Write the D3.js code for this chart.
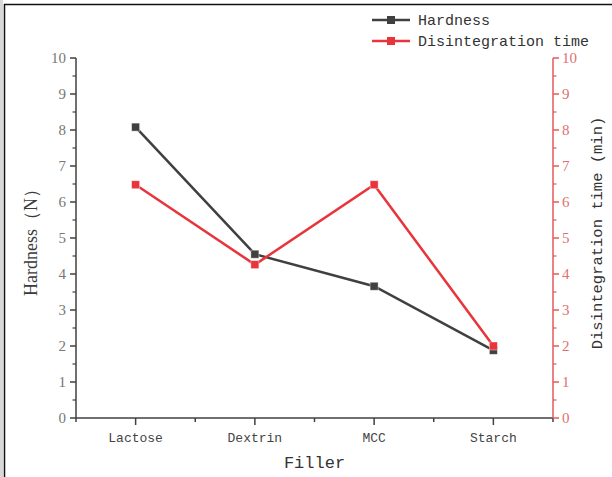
<!DOCTYPE html>
<html><head><meta charset="utf-8">
<script src="https://cdn.jsdelivr.net/npm/d3@7"></script>
<style>body{margin:0;background:#fff}svg{display:block}</style>
</head><body>
<script>
const categories = ["Lactose", "Dextrin", "MCC", "Starch"];
const hardness = [8.08, 4.55, 3.66, 1.88];
const disintegration = [6.48, 4.26, 6.48, 2.0];
const yTicks = [0,1,2,3,4,5,6,7,8,9,10];
const seriesNames = ["Hardness", "Disintegration time"];

const W = 612, H = 477;
const m = {left: 76, right: 553, top: 58, bottom: 418};
const darkC = "#404040", redC = "#e8343a", axisRed = "#e05a5e", labRed = "#e07070";
const svg = d3.select("body").append("svg").attr("width", W).attr("height", H);

// frame
svg.append("rect").attr("x",0).attr("y",0).attr("width",3).attr("height",H).attr("fill","#d8d8d8");
svg.append("line").attr("x1",4.5).attr("x2",4.5).attr("y1",4).attr("y2",H).attr("stroke","#111").attr("stroke-width",1.5);
svg.append("line").attr("x1",4).attr("x2",W).attr("y1",4.5).attr("y2",4.5).attr("stroke","#111").attr("stroke-width",1.5);

const x = d3.scalePoint().domain(categories).range([m.left, m.right]).padding(0.5);
const y = d3.scaleLinear().domain([0,10]).range([m.bottom, m.top]);
const minor = d3.range(0.5, 10, 1);
const step = x.step();

// x axis
const gx = svg.append("g").attr("transform", `translate(0,${m.bottom})`);
gx.append("line").attr("x1", m.left).attr("x2", m.right).attr("stroke", darkC).attr("stroke-width", 1.5);
gx.selectAll(".mj").data(categories).join("line")
  .attr("x1", d=>x(d)).attr("x2", d=>x(d)).attr("y1",0).attr("y2",7).attr("stroke",darkC).attr("stroke-width",1.5);
gx.selectAll(".mn").data(d3.range(0, categories.length + 1)).join("line")
  .attr("x1", i=>m.left + i*step).attr("x2", i=>m.left + i*step).attr("y1",0).attr("y2",4).attr("stroke",darkC).attr("stroke-width",1.5);
gx.selectAll("text").data(categories).join("text")
  .attr("x", d=>x(d)).attr("y", 24).attr("text-anchor","middle")
  .attr("font-family","Liberation Mono").attr("font-size",13).attr("fill","#444").text(d=>d);
svg.append("text").attr("x", (m.left+m.right)/2).attr("y", 468).attr("text-anchor","middle")
  .attr("font-family","Liberation Mono").attr("font-size",17).attr("fill","#333").text("Filler");

// left axis
const gl = svg.append("g");
gl.append("line").attr("x1",m.left).attr("x2",m.left).attr("y1",m.top).attr("y2",m.bottom).attr("stroke",darkC).attr("stroke-width",1.5);
gl.selectAll(".mj").data(yTicks).join("line").attr("x1",m.left).attr("x2",m.left-6)
  .attr("y1",d=>y(d)).attr("y2",d=>y(d)).attr("stroke",darkC).attr("stroke-width",1.5);
gl.selectAll(".mn").data(minor).join("line").attr("x1",m.left).attr("x2",m.left-3.5)
  .attr("y1",d=>y(d)).attr("y2",d=>y(d)).attr("stroke",darkC).attr("stroke-width",1.2);
gl.selectAll("text").data(yTicks).join("text").attr("x", m.left-10).attr("y", d=>y(d)+5)
  .attr("text-anchor","end").attr("font-family","Liberation Serif").attr("font-size",15).attr("fill","#777").text(d=>d);
svg.append("text").attr("transform", `translate(37,${(m.top+m.bottom)/2}) rotate(-90)`).attr("text-anchor","middle")
  .attr("font-family","Liberation Serif").attr("font-size",18).attr("fill","#3a3a3a").text("Hardness（N）");

// right axis
const gr = svg.append("g");
gr.append("line").attr("x1",m.right).attr("x2",m.right).attr("y1",m.top).attr("y2",m.bottom).attr("stroke",axisRed).attr("stroke-width",1.5);
gr.selectAll(".mj").data(yTicks).join("line").attr("x1",m.right).attr("x2",m.right+6)
  .attr("y1",d=>y(d)).attr("y2",d=>y(d)).attr("stroke",axisRed).attr("stroke-width",1.5);
gr.selectAll(".mn").data(minor).join("line").attr("x1",m.right).attr("x2",m.right+3.5)
  .attr("y1",d=>y(d)).attr("y2",d=>y(d)).attr("stroke",axisRed).attr("stroke-width",1.2);
gr.selectAll("text").data(yTicks).join("text").attr("x", m.right+9).attr("y", d=>y(d)+5)
  .attr("text-anchor","start").attr("font-family","Liberation Serif").attr("font-size",15).attr("fill",labRed).text(d=>d);
svg.append("text").attr("transform", `translate(602,233) rotate(-90)`).attr("text-anchor","middle")
  .attr("font-family","Liberation Mono").attr("font-size",15.5).attr("fill","#333").text("Disintegration time (min)");

// series
function drawSeries(vals, color) {
  const line = d3.line().x((d,i)=>x(categories[i])).y(d=>y(d));
  svg.append("path").datum(vals).attr("d", line).attr("fill","none").attr("stroke",color).attr("stroke-width",2.5);
  svg.selectAll(null).data(vals).join("rect")
    .attr("x",(d,i)=>x(categories[i])-4).attr("y",d=>y(d)-4).attr("width",8).attr("height",8)
    .attr("fill",color).attr("stroke","#fff").attr("stroke-opacity",0.5).attr("stroke-width",0.8);
}
drawSeries(hardness, darkC);
drawSeries(disintegration, redC);

// legend
const lg = svg.append("g");
[[seriesNames[0], darkC, 20],[seriesNames[1], redC, 41]].forEach(([name,c,yy])=>{
  lg.append("line").attr("x1",372).attr("x2",410).attr("y1",yy).attr("y2",yy).attr("stroke",c).attr("stroke-width",2.5);
  lg.append("rect").attr("x",387).attr("y",yy-4).attr("width",8).attr("height",8).attr("fill",c);
  lg.append("text").attr("x",418).attr("y",yy+5).attr("font-family","Liberation Mono").attr("font-size",15).attr("fill","#333").text(name);
});
</script>
</body></html>
